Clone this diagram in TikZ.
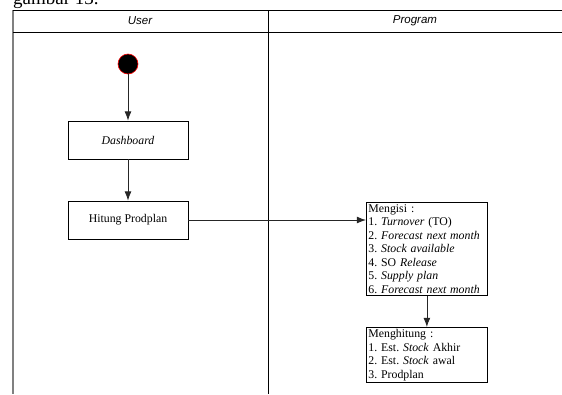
\documentclass[tikz,border=0pt]{standalone}
\usepackage{fontspec}
\setmainfont{Liberation Serif}
\newfontfamily\lanefont{Liberation Sans}
\usetikzlibrary{arrows.meta}
\frenchspacing

\begin{document}
\begin{tikzpicture}[x=1pt, y=-1pt,
        lane/.style={font=\lanefont\itshape\fontsize{11.5}{13}\selectfont},
        act/.style={draw, line width=0.8pt, minimum width=120pt, minimum height=38pt, font=\fontsize{11.8}{13.5}\selectfont},
        note/.style={draw, line width=0.8pt, anchor=north west, align=left, text width=117pt, inner sep=2pt, font=\fontsize{11.8}{13.5}\selectfont},
        flow/.style={-{Latex[scale=1.4]}, line width=0.8pt, black!85}]
        \useasboundingbox (0,0) rectangle (562,394);
        \node[anchor=base west, font=\fontsize{19}{20}\selectfont, inner sep=0pt] (caption) at (13,4) {gambar 13.};

        % swimlanes
        \draw[gray, line width=1.5pt] (13,10) -- (13,394);
        \draw[line width=0.8pt] (13,10) -- (562,10);
        \draw[line width=0.8pt] (13,32) -- (562,32);
        \draw[line width=0.8pt] (268,10) -- (268,394);
        \node[lane] (user) at (140,21) {User};
        \node[lane] (program) at (415,21) {Program};

        \node[circle, fill, draw=red, line width=0.6pt, minimum size=20pt, inner sep=0pt] (start) at (128,64) {};
        \node[act] (dashboard) at (128,140) {\textit{Dashboard}};
        \node[act] (hitung) at (128,220) {Hitung Prodplan};
        \node[note] (mengisi) at (366,202) {Mengisi :\\
            1. \textit{Turnover} (TO)\\
            2. \textit{Forecast next month}\\
            3. \textit{Stock available}\\
            4. SO \textit{Release}\\
            5. \textit{Supply plan}\\
            6. \textit{Forecast next month}};
        \node[note] (menghitung) at (366,327) {Menghitung :\\
            1. Est. \textit{Stock} Akhir\\
            2. Est. \textit{Stock} awal\\
            3. Prodplan};

        \draw[flow] (start) -- (dashboard);
        \draw[flow] (dashboard) -- (hitung);
        \draw[flow] (hitung.east) -- (hitung.east -| mengisi.west);
        \draw[flow] (mengisi) -- (menghitung);
    \end{tikzpicture}
\end{document}
